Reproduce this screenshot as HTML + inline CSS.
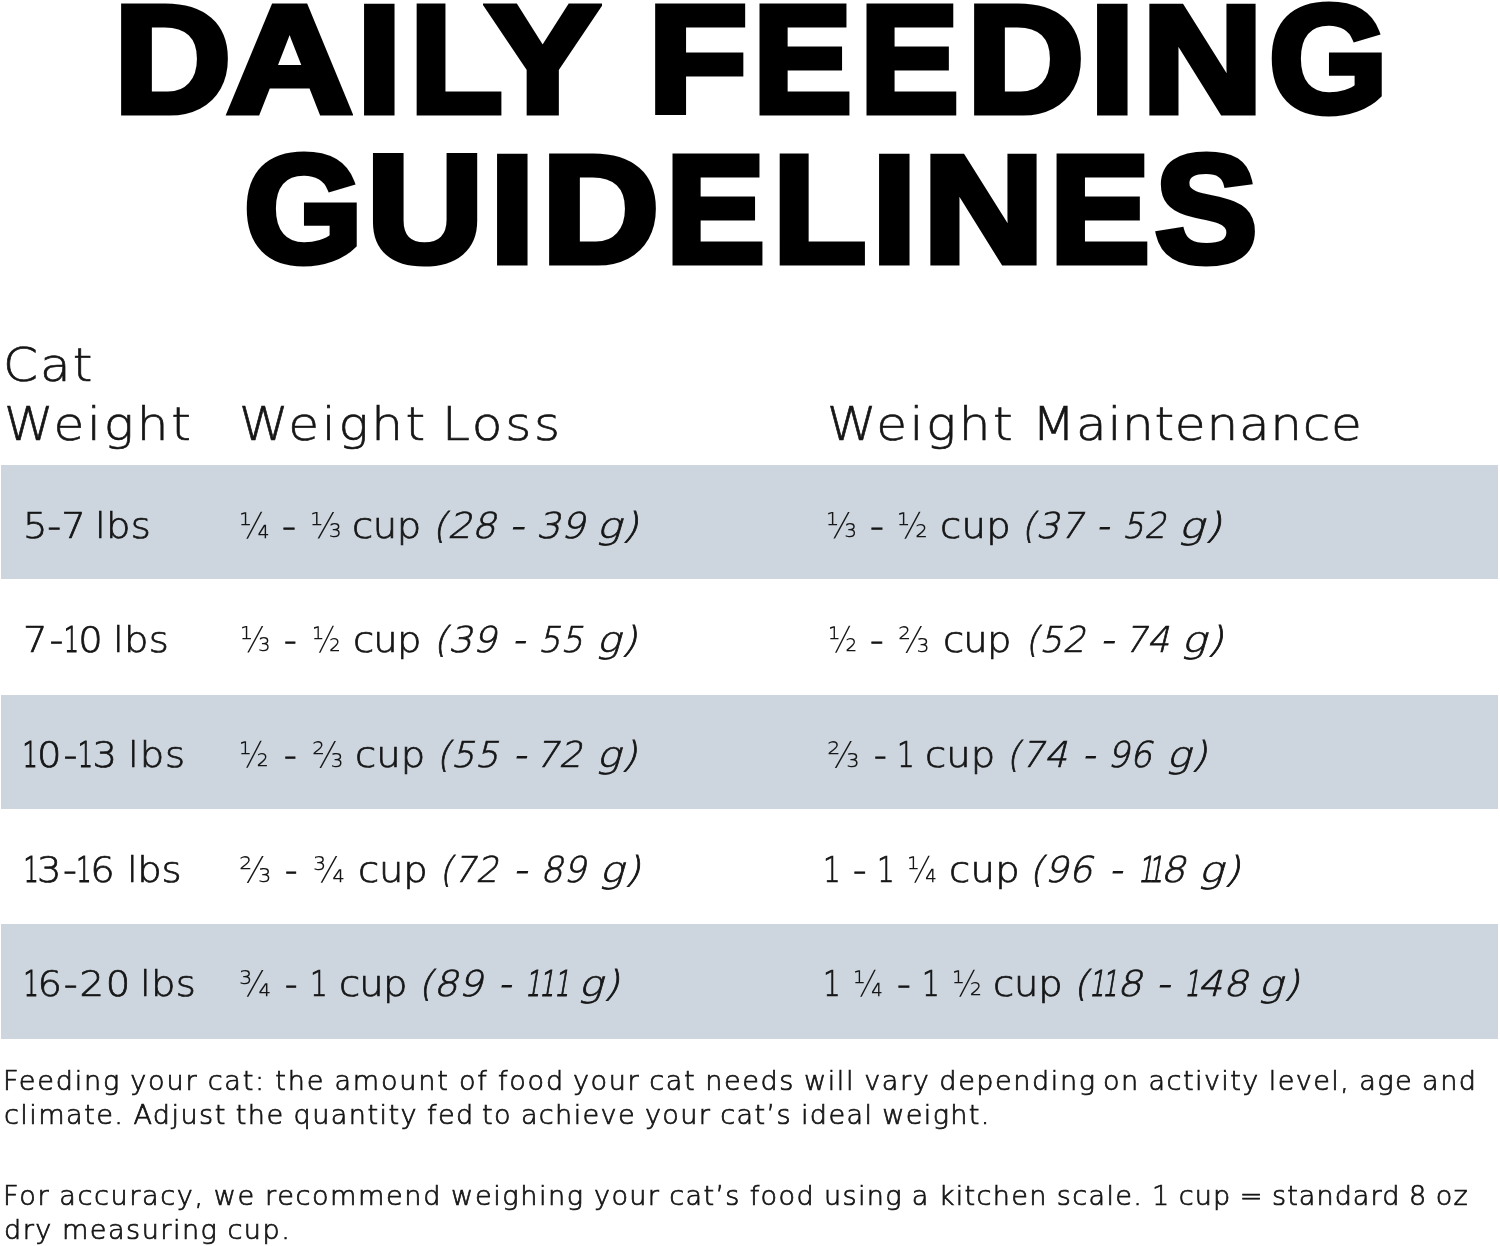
<!DOCTYPE html>
<html lang="en"><head><meta charset="utf-8"><title>Daily Feeding Guidelines</title>
<style>
html,body{margin:0;padding:0;background:#fff}
body{width:1500px;height:1246px;position:relative;overflow:hidden;color:#161616;font-family:"DejaVu Sans Light","DejaVu Sans","Liberation Sans",sans-serif;font-weight:200}
.t{position:absolute;left:0;margin:0;white-space:nowrap;font:bold 152.0px/152.0px "Liberation Sans",sans-serif;color:#000;-webkit-text-stroke:7.0px #000;letter-spacing:0}
.t span{display:inline-block;transform-origin:0 50%}
h1{margin:0}
.bd{position:absolute;left:1px;width:1497px;background:#cdd6df}
.ln{position:absolute;left:0;white-space:nowrap;-webkit-text-stroke:.014em}
.ln.r{-webkit-text-stroke:.02em}
.ln.f{-webkit-text-stroke:.028em;word-spacing:-1px}
.ln span,.ln i{display:inline-block;transform-origin:0 50%}
.ln .o{transform-origin:50% 50%;transform:scaleX(.62);margin:0 -.18em;-webkit-text-stroke:.032em}
.ln .fr{-webkit-text-stroke:0}
.ln .hy{-webkit-text-stroke:1px}

</style></head><body>
<h1 aria-label="DAILY FEEDING GUIDELINES">
<span class="t t1" style="top:-17.00px"><span style="margin-left:113.65px;transform:scaleX(1.065)">D</span><span style="margin-left:3.76px;transform:scaleX(1.142)">A</span><span style="margin-left:20.52px;transform:scaleX(1.056)">I</span><span style="margin-left:10.16px;transform:scaleX(0.997)">L</span><span style="margin-left:-17.19px;transform:scaleX(1.118)">Y</span> <span style="margin-left:18.74px;transform:scaleX(1.070);position:relative;top:-1px">F</span><span style="margin-left:12.28px;transform:scaleX(0.975)">E</span><span style="margin-left:5.89px;transform:scaleX(0.973)">E</span><span style="margin-left:5.00px;transform:scaleX(1.065)">D</span><span style="margin-left:14.04px;transform:scaleX(1.056)">I</span><span style="margin-left:9.21px;transform:scaleX(1.103)">N</span><span style="margin-left:16.84px;transform:scaleX(1.004)">G</span></span>
<span class="t t2" style="top:133.10px"><span style="margin-left:244.25px;transform:scaleX(1.004)">G</span><span style="margin-left:4.80px;transform:scaleX(1.060)">U</span><span style="margin-left:13.41px;transform:scaleX(1.056)">I</span><span style="margin-left:8.96px;transform:scaleX(1.065)">D</span><span style="margin-left:14.08px;transform:scaleX(0.975)">E</span><span style="margin-left:5.68px;transform:scaleX(1.003)">L</span><span style="margin-left:7.05px;transform:scaleX(1.056)">I</span><span style="margin-left:8.46px;transform:scaleX(1.103)">N</span><span style="margin-left:17.28px;transform:scaleX(0.983)">E</span><span style="margin-left:3.04px;transform:scaleX(1.010)">S</span></span>
</h1>
<div class="bd" style="top:465px;height:114.4px"></div>
<div class="bd" style="top:694.5px;height:114.8px"></div>
<div class="bd" style="top:923.9px;height:114.7px"></div>
<div class="ln h" id="h1" style="top:336.54px;font-size:46.4px;line-height:56px"><span style="margin-left:2.84px;letter-spacing:1.92px;transform:scaleX(1.080)">Cat</span></div>
<div class="ln h" id="h2" style="top:396.34px;font-size:46.4px;line-height:56px"><span style="margin-left:3.53px;letter-spacing:2.60px;transform:scaleX(1.080)">Weight</span> <span style="margin-left:44.82px;letter-spacing:2.48px;transform:scaleX(1.080)">Weight</span> <span style="margin-left:13.84px;letter-spacing:2.57px;transform:scaleX(1.080)">Loss</span> <span style="margin-left:258.33px;letter-spacing:2.39px;transform:scaleX(1.080)">Weight</span> <span style="margin-left:15.26px;letter-spacing:0.67px;transform:scaleX(1.080)">Maintenance</span></div>
<div class="ln r" id="r1" style="top:503.74px;font-size:35.7px;line-height:43px"><span style="margin-left:22.60px;letter-spacing:-0.14px;transform:scaleX(1.080)">5-7</span> <span style="margin-left:3.39px;letter-spacing:0.31px;transform:scaleX(1.080)">lbs</span> <span class="fr" style="margin-left:80.21px;transform:scaleX(0.885)">¼</span> <span class="hy" style="margin-left:-3.07px;transform:scaleX(1.088)">-</span> <span class="fr" style="margin-left:3.80px;transform:scaleX(0.918)">⅓</span> <span style="margin-left:-3.79px;letter-spacing:-0.46px;transform:scaleX(1.080)">cup</span> <i style="margin-left:4.95px;letter-spacing:0.50px;transform:scaleX(1.053)">(28</i> <i class="hy" style="margin-left:4.79px;transform:scaleX(1.104)">-</i> <i style="margin-left:3.46px;letter-spacing:0.50px;transform:scaleX(1.054)">39</i> <i style="margin-left:1.66px;letter-spacing:0.50px;transform:scaleX(1.168)">g)</i> <span class="fr" style="margin-left:182.84px;transform:scaleX(0.897)">⅓</span> <span class="hy" style="margin-left:-2.10px;transform:scaleX(1.074)">-</span> <span class="fr" style="margin-left:2.70px;transform:scaleX(0.894)">½</span> <span style="margin-left:-2.80px;letter-spacing:0.28px;transform:scaleX(1.080)">cup</span> <i style="margin-left:3.53px;letter-spacing:0.50px;transform:scaleX(1.018)">(37</i> <i class="hy" style="margin-left:2.77px;transform:scaleX(0.984)">-</i> <i style="margin-left:2.01px;letter-spacing:0.50px;transform:scaleX(0.946)">52</i> <i style="margin-left:-1.68px;letter-spacing:0.50px;transform:scaleX(1.198)">g)</i></div>
<div class="ln r" id="r2" style="top:617.94px;font-size:35.7px;line-height:43px"><span style="margin-left:22.84px;letter-spacing:1.86px;transform:scaleX(1.080)">7-<span class="o">1</span>0</span> <span style="margin-left:3.13px;letter-spacing:0.26px;transform:scaleX(1.080)">lbs</span> <span class="fr" style="margin-left:63.94px;transform:scaleX(0.885)">⅓</span> <span class="hy" style="margin-left:-2.17px;transform:scaleX(0.984)">-</span> <span class="fr" style="margin-left:3.52px;transform:scaleX(0.835)">½</span> <span style="margin-left:-4.29px;letter-spacing:-0.79px;transform:scaleX(1.080)">cup</span> <i style="margin-left:5.22px;letter-spacing:0.50px;transform:scaleX(1.045)">(39</i> <i class="hy" style="margin-left:7.27px;transform:scaleX(0.984)">-</i> <i style="margin-left:1.31px;letter-spacing:0.50px;transform:scaleX(0.970)">55</i> <i style="margin-left:0.32px;letter-spacing:0.50px;transform:scaleX(1.132)">g)</i> <span class="fr" style="margin-left:184.36px;transform:scaleX(0.850)">½</span> <span class="hy" style="margin-left:-3.45px;transform:scaleX(1.055)">-</span> <span class="fr" style="margin-left:3.78px;transform:scaleX(0.911)">⅔</span> <span style="margin-left:-0.74px;letter-spacing:-0.79px;transform:scaleX(1.080)">cup</span> <i style="margin-left:7.22px;letter-spacing:0.50px;transform:scaleX(0.988)">(52</i> <i class="hy" style="margin-left:2.84px;transform:scaleX(1.048)">-</i> <i style="margin-left:0.38px;letter-spacing:0.50px;transform:scaleX(0.980)">74</i> <i style="margin-left:-1.02px;letter-spacing:0.50px;transform:scaleX(1.166)">g)</i></div>
<div class="ln r" id="r3" style="top:732.84px;font-size:35.7px;line-height:43px"><span style="margin-left:23.76px;letter-spacing:2.05px;transform:scaleX(1.080)"><span class="o">1</span>0-<span class="o">1</span>3</span> <span style="margin-left:4.56px;letter-spacing:0.86px;transform:scaleX(1.080)">lbs</span> <span class="fr" style="margin-left:46.16px;transform:scaleX(0.863)">½</span> <span class="hy" style="margin-left:-1.19px;transform:scaleX(0.984)">-</span> <span class="fr" style="margin-left:3.57px;transform:scaleX(0.911)">⅔</span> <span style="margin-left:-2.64px;letter-spacing:0.09px;transform:scaleX(1.080)">cup</span> <i style="margin-left:4.68px;letter-spacing:0.50px;transform:scaleX(1.027)">(55</i> <i class="hy" style="margin-left:4.42px;transform:scaleX(0.996)">-</i> <i style="margin-left:-2.00px;letter-spacing:0.50px;transform:scaleX(1.010)">72</i> <i style="margin-left:2.68px;letter-spacing:0.50px;transform:scaleX(1.132)">g)</i> <span class="fr" style="margin-left:183.81px;transform:scaleX(0.944)">⅔</span> <span class="hy" style="margin-left:0.91px;transform:scaleX(0.984)">-</span> <span style="margin-left:-1.37px;transform:scaleX(0.780)">1</span> <span style="margin-left:-5.82px;letter-spacing:0.09px;transform:scaleX(1.080)">cup</span> <i style="margin-left:4.48px;letter-spacing:0.50px;transform:scaleX(1.011)">(74</i> <i class="hy" style="margin-left:3.67px;transform:scaleX(0.984)">-</i> <i style="margin-left:0.36px;letter-spacing:0.50px;transform:scaleX(0.970)">96</i> <i style="margin-left:1.27px;letter-spacing:0.50px;transform:scaleX(1.132)">g)</i></div>
<div class="ln r" id="r4" style="top:847.84px;font-size:35.7px;line-height:43px"><span style="margin-left:24.76px;letter-spacing:1.26px;transform:scaleX(1.080)"><span class="o">1</span>3-<span class="o">1</span>6</span> <span style="margin-left:6.49px;letter-spacing:-0.34px;transform:scaleX(1.080)">lbs</span> <span class="fr" style="margin-left:51.01px;transform:scaleX(0.937)">⅔</span> <span class="hy" style="margin-left:-0.06px;transform:scaleX(0.961)">-</span> <span class="fr" style="margin-left:3.84px;transform:scaleX(0.923)">¾</span> <span style="margin-left:-0.98px;letter-spacing:-0.19px;transform:scaleX(1.080)">cup</span> <i style="margin-left:4.72px;letter-spacing:0.50px;transform:scaleX(0.973)">(72</i> <i class="hy" style="margin-left:2.16px;transform:scaleX(1.062)">-</i> <i style="margin-left:2.99px;letter-spacing:0.50px;transform:scaleX(0.987)">89</i> <i style="margin-left:1.05px;letter-spacing:0.50px;transform:scaleX(1.139)">g)</i> <span style="margin-left:176.28px;transform:scaleX(0.780)">1</span> <span class="hy" style="margin-left:-4.70px;transform:scaleX(1.041)">-</span> <span style="margin-left:-0.17px;transform:scaleX(0.780)">1</span> <span class="fr" style="margin-left:-4.04px;transform:scaleX(0.865)">¼</span> <span style="margin-left:-3.90px;letter-spacing:0.28px;transform:scaleX(1.080)">cup</span> <i style="margin-left:3.03px;letter-spacing:0.50px;transform:scaleX(1.045)">(96</i> <i class="hy" style="margin-left:8.22px;transform:scaleX(0.996)">-</i> <i style="margin-left:6.63px;letter-spacing:-0.51px;transform:scaleX(1.080)"><span class="o">1</span><span class="o">1</span>8</i> <i style="margin-left:5.89px;letter-spacing:0.50px;transform:scaleX(1.168)">g)</i></div>
<div class="ln r" id="r5" style="top:961.94px;font-size:35.7px;line-height:43px"><span style="margin-left:24.76px;letter-spacing:1.68px;transform:scaleX(1.080)"><span class="o">1</span>6-20</span> <span style="margin-left:4.22px;letter-spacing:0.26px;transform:scaleX(1.080)">lbs</span> <span class="fr" style="margin-left:36.42px;transform:scaleX(0.929)">¾</span> <span class="hy" style="margin-left:0.02px;transform:scaleX(0.961)">-</span> <span style="margin-left:0.05px;transform:scaleX(0.780)">1</span> <span style="margin-left:-5.01px;letter-spacing:-0.79px;transform:scaleX(1.080)">cup</span> <i style="margin-left:5.22px;letter-spacing:0.50px;transform:scaleX(1.064)">(89</i> <i class="hy" style="margin-left:7.77px;transform:scaleX(0.984)">-</i> <i style="margin-left:4.47px;letter-spacing:3.76px;transform:scaleX(1.080)"><span class="o">1</span><span class="o">1</span><span class="o">1</span></i> <i style="margin-left:-0.50px;letter-spacing:0.50px;transform:scaleX(1.142)">g)</i> <span style="margin-left:197.28px;transform:scaleX(0.780)">1</span> <span class="fr" style="margin-left:-4.32px;transform:scaleX(0.865)">¼</span> <span class="hy" style="margin-left:-1.80px;transform:scaleX(1.066)">-</span> <span style="margin-left:0.29px;transform:scaleX(0.780)">1</span> <span class="fr" style="margin-left:-4.02px;transform:scaleX(0.871)">½</span> <span style="margin-left:-4.21px;letter-spacing:-0.19px;transform:scaleX(1.080)">cup</span> <i style="margin-left:3.42px;letter-spacing:2.29px;transform:scaleX(1.080)">(<span class="o">1</span><span class="o">1</span>8</i> <i class="hy" style="margin-left:6.46px;transform:scaleX(1.048)">-</i> <i style="margin-left:6.00px;letter-spacing:0.69px;transform:scaleX(1.080)"><span class="o">1</span>48</i> <i style="margin-left:3.42px;letter-spacing:0.50px;transform:scaleX(1.142)">g)</i></div>
<div class="ln f" id="f1" style="top:1064.70px;font-size:26.3px;line-height:32px"><span style="margin-left:2.72px;letter-spacing:1.72px;transform:scaleX(1.030)">Feeding your cat: the amount of food</span> <span style="margin-left:17.29px;letter-spacing:1.52px;transform:scaleX(1.030)">your cat needs will vary depending</span> <span style="margin-left:14.81px;letter-spacing:1.38px;transform:scaleX(1.030)">on activity level, age and</span></div>
<div class="ln f" id="f2" style="top:1099.30px;font-size:26.3px;line-height:32px"><span style="margin-left:4.16px;letter-spacing:1.40px;transform:scaleX(1.030)">climate. Adjust the quantity fed</span> <span style="margin-left:13.47px;letter-spacing:1.33px;transform:scaleX(1.030)">to achieve your cat’s ideal weight.</span></div>
<div class="ln f" id="f3" style="top:1179.50px;font-size:26.3px;line-height:32px"><span style="margin-left:2.72px;letter-spacing:1.56px;transform:scaleX(1.030)">For accuracy, we recommend weighing</span> <span style="margin-left:19.29px;letter-spacing:1.31px;transform:scaleX(1.030)">your cat’s food using a kitchen scale.</span> <span style="margin-left:16.82px;letter-spacing:0.99px;transform:scaleX(1.030)">1 cup = standard 8 oz</span></div>
<div class="ln f" id="f4" style="top:1213.90px;font-size:26.3px;line-height:32px"><span style="margin-left:3.86px;letter-spacing:1.45px;transform:scaleX(1.030)">dry measuring cup.</span></div>
</body></html>
